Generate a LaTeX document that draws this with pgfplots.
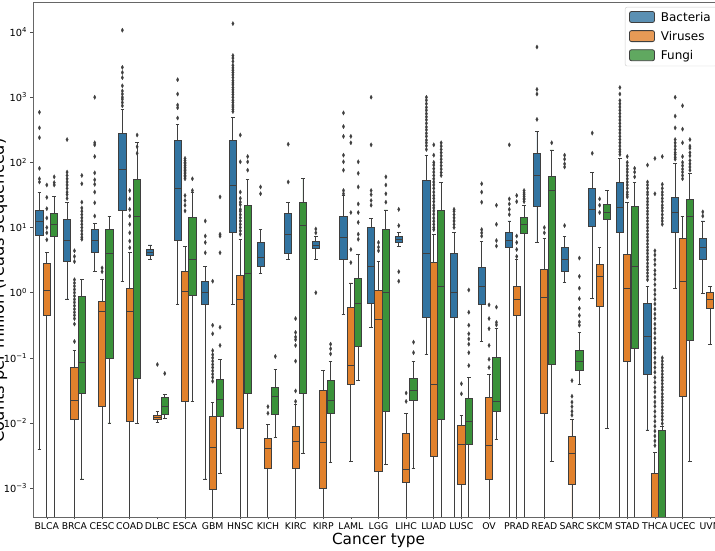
\documentclass[border=0pt]{standalone}
\usepackage{fontspec}
\setmainfont{DejaVu Sans}
\usepackage{pgfplots}
\pgfplotsset{compat=1.18}
\usepgfplotslibrary{statistics}
\definecolor{cblue}{HTML}{3274A1}
\definecolor{corange}{HTML}{E1812C}
\definecolor{cgreen}{HTML}{3A923A}
\definecolor{edge}{HTML}{3F3F3F}
\pgfplotsset{
  bstyle/.style={draw=edge, line width=0.9pt, forget plot, solid,
    mark=diamond*, mark size=2.2pt,
    mark options={fill=edge, draw=edge, line width=0.2pt, xscale=0.75}},
}
% #1 colour, #2 position, #3 lower whisker, #4 Q1, #5 median, #6 Q3, #7 upper whisker, #8 outliers
\newcommand{\bx}[8]{%
  \addplot[bstyle, fill=#1, boxplot prepared={draw position=#2, lower whisker=#3,
    lower quartile=#4, median=#5, upper quartile=#6, upper whisker=#7}]
    table[row sep=\\, y index=0] {data\\ #8};}
\begin{document}
\begin{tikzpicture}[trim left=-33pt, trim right=682pt]
\path (0pt,-33pt) (0pt,517pt);
\begin{axis}[
  at={(0pt,0pt)}, anchor=south west,
  scale only axis, width=691pt, height=515pt,
  ymode=log, ymin=3.6e-4, ymax=2.9e4,
  xmin=-0.5, xmax=24.5,
  boxplot/draw direction=y,
  boxplot/box extend=0.26, boxplot/whisker extend=0.13,
  xtick={0,...,24},
  xticklabels={BLCA,BRCA,CESC,COAD,DLBC,ESCA,GBM,HNSC,KICH,KIRC,KIRP,LAML,LGG,LIHC,LUAD,LUSC,OV,PRAD,READ,SARC,SKCM,STAD,THCA,UCEC,UVM},
  ytick={1e-3,1e-2,1e-1,1,10,100,1000,10000},
  yticklabels={10\textsuperscript{−3},10\textsuperscript{−2},10\textsuperscript{−1},10\textsuperscript{0},10\textsuperscript{1},10\textsuperscript{2},10\textsuperscript{3},10\textsuperscript{4}},
  yminorticks=false,
  tick align=outside, tick pos=left, major tick length=2.5pt,
  every tick/.style={black!70, line width=0.6pt},
  axis line style={black!60, line width=0.8pt},
  xticklabel style={font=\fontsize{9.3}{11}\selectfont, black},
  yticklabel style={font=\fontsize{9.8}{11}\selectfont, black},
  xlabel={Cancer type},
  ylabel={Counts per million (reads sequenced)},
  xlabel style={font=\fontsize{15.3}{18}\selectfont, at={(axis description cs:0.5,0)}, anchor=center, yshift=-23pt},
  ylabel style={font=\fontsize{16.2}{19}\selectfont, at={([xshift=-33.5pt]axis description cs:0,0.44)}, anchor=center},
  legend style={at={(rel axis cs:1,1)}, anchor=north east, xshift=-7pt, yshift=-5pt,
    draw=black!20, rounded corners=2pt, fill=white, fill opacity=0.8, text opacity=1,
    font=\fontsize{12}{14}\selectfont, inner xsep=4pt, inner ysep=3pt,
    /tikz/row sep=4.5pt, /tikz/every odd column/.append style={column sep=4pt}},
  legend cell align=left,
  legend image code/.code={\draw[#1, draw=edge, line width=0.8pt] (0pt,-5pt) rectangle (25pt,6pt);},
]
\addlegendimage{fill=cblue}\addlegendentry{Bacteria}
\addlegendimage{fill=corange}\addlegendentry{Viruses}
\addlegendimage{fill=cgreen}\addlegendentry{Fungi}
% BLCA
\bx{cblue}{-0.267}{3.9e-3}{7.6}{12.6}{18.6}{34.7}{589\\ 339\\ 240\\ 81\\ 56\\ 50\\}
\bx{corange}{0}{1e-5}{0.447}{1.07}{2.8}{4.2}{45\\ 29\\ 19.5\\ 14\\ 10\\ 8.3\\ 6.5\\}
\bx{cgreen}{0.267}{1e-5}{7.4}{11.2}{16.6}{29.5}{60\\ 49\\ 45\\}
% BRCA
\bx{cblue}{0.733}{0.8}{3.0}{6.3}{13.2}{24.5}{224\\ 71\\ 63\\ 56\\ 50\\ 45\\ 40\\ 35\\ 32\\ 28\\}
\bx{corange}{1}{1e-5}{0.0112}{0.0224}{0.0708}{0.129}{4.4\\ 3.6\\ 3.0\\ 1.58\\ 1.41\\ 1.26\\ 1.12\\ 1.0\\ 0.89\\ 0.79\\ 0.71\\ 0.63\\ 0.56\\ 0.5\\ 0.45\\ 0.4\\ 0.33\\ 0.178\\}
\bx{cgreen}{1.267}{1.38e-3}{0.0288}{0.085}{0.89}{1.58}{63\\ 47\\ 24.5\\ 20\\ 17.8\\ 15.8\\ 14.1\\ 12.6\\ 11.2\\ 10\\ 8.9\\ 7.9\\ 7.1\\ 6.6\\}
% CESC
\bx{cblue}{1.733}{2.1}{4.2}{6.3}{9.3}{11.7}{1000\\ 200\\ 186\\ 123\\ 69\\ 54\\ 46\\ 35\\ 24\\ 15\\}
\bx{corange}{2}{1e-5}{0.0178}{0.51}{0.74}{1.58}{2.4\\ 2.1\\}
\bx{cgreen}{2.267}{0.01}{0.098}{4}{9.5}{15}{}
% COAD
\bx{cblue}{2.733}{1.48}{18.2}{79}{275}{646}{10700\\ 2880\\ 2400\\ 2000\\ 1500\\ 1250\\ 1120\\ 1000\\ 930\\ 830\\ 740\\}
\bx{corange}{3}{1e-5}{0.0107}{0.52}{1.17}{4.1}{37\\ 27.5\\ 19\\ 15\\ 11.2\\ 8.3\\ 6.2\\ 4.9\\}
\bx{cgreen}{3.267}{0.0098}{0.049}{15}{54}{200}{263\\ 174\\ 138\\}
% DLBC
\bx{cblue}{3.733}{3.2}{3.7}{4.2}{4.6}{5.4}{}
\bx{corange}{4}{0.0102}{0.0112}{0.0123}{0.0132}{0.0148}{0.079\\}
\bx{cgreen}{4.267}{0.0117}{0.0135}{0.0178}{0.0245}{0.0275}{0.0575\\}
% ESCA
\bx{cblue}{4.733}{0.65}{6.3}{40}{214}{380}{1860\\ 1120\\ 760\\ 690\\ 480\\}
\bx{corange}{5}{1e-5}{0.0214}{1.03}{2.14}{5.2}{115\\ 107\\ 100\\ 95\\ 89\\ 84\\ 79\\ 75\\ 71\\ 67\\ 63\\ 60\\ 56\\ 31\\ 26\\ 22\\ 18\\}
\bx{cgreen}{5.267}{0.0214}{0.91}{3.2}{14.5}{35}{56\\ 37\\}
% GBM
\bx{cblue}{5.733}{1.38e-3}{0.65}{1.0}{1.48}{2.5}{12.6\\ 7.4\\ 5.9\\ 4.1\\}
\bx{corange}{6}{1e-5}{9.5e-4}{4.2e-3}{0.0126}{0.0204}{1.5\\ 0.316\\ 0.234\\ 0.129\\ 0.112\\ 0.1\\ 0.089\\ 0.079\\ 0.071\\ 0.063\\ 0.056\\ 0.05\\ 0.0437\\}
\bx{cgreen}{6.267}{1.66e-3}{0.0126}{0.0229}{0.0468}{0.0955}{29.5\\ 7.9\\ 7.4\\ 4.1\\ 0.295\\ 0.155\\}
% HNSC
\bx{cblue}{6.733}{0.65}{8.3}{45}{214}{490}{13500\\ 4365\\ 4000\\ 3550\\ 3100\\ 2820\\ 2600\\ 2400\\ 2200\\ 2000\\ 1800\\ 1660\\ 1550\\ 1410\\ 1300\\ 1200\\ 1100\\ 1000\\ 900\\ 832\\ 760\\ 708\\ 650\\ 603\\}
\bx{corange}{7}{1e-5}{8.3e-3}{0.78}{1.86}{6.6}{263\\ 102\\ 35\\ 28\\ 24.5\\ 22.4\\ 19\\ 17.8\\ 15.8\\ 14.1\\ 12.6\\ 11.2\\ 10\\ 8.9\\ 7.9\\}
\bx{cgreen}{7.267}{1e-5}{0.0288}{2}{21.9}{54}{123\\ 102\\ 76\\}
% KICH
\bx{cblue}{7.733}{2.0}{2.5}{3.5}{5.9}{9.3}{42\\ 33\\}
\bx{corange}{8}{1e-5}{2.0e-3}{4.1e-3}{5.75e-3}{9.5e-3}{0.0178\\ 0.0141\\}
\bx{cgreen}{8.267}{5.9e-3}{0.0135}{0.0257}{0.0355}{0.066}{0.105\\}
% KIRC
\bx{cblue}{8.733}{3.2}{4.0}{7.9}{16.6}{24.5}{190\\ 50\\}
\bx{corange}{9}{1e-5}{2.0e-3}{5.2e-3}{8.7e-3}{0.019}{0.4\\ 0.245\\ 0.209\\ 0.19\\ 0.155\\ 0.089\\ 0.031\\ 0.0214\\}
\bx{cgreen}{9.267}{3.4e-3}{0.0288}{10.7}{24.5}{56}{}
% KIRP
\bx{cblue}{9.733}{3.2}{4.7}{5.4}{6.2}{7.4}{9.5\\ 8.3\\ 1.0\\}
\bx{corange}{10}{1e-5}{1.0e-3}{5.1e-3}{0.031}{0.0646}{}
\bx{cgreen}{10.267}{2.5e-3}{0.0141}{0.0219}{0.0447}{0.089}{0.162\\ 0.138\\ 0.115\\}
% LAML
\bx{cblue}{10.733}{0.47}{3.2}{7.1}{15}{31}{575\\ 355\\ 251\\ 129\\ 102\\ 76\\ 37\\ 33\\}
\bx{corange}{11}{2.6e-3}{0.039}{0.076}{0.59}{1.41}{251\\ 200\\ 17\\ 4.6\\ 2.9\\}
\bx{cgreen}{11.267}{0.0447}{0.148}{0.68}{1.66}{3.9}{102\\ 68\\ 42\\ 23\\ 17\\ 12\\ 7.9\\ 6.6\\}
% LGG
\bx{cblue}{11.733}{0.295}{0.69}{2.5}{10}{13.8}{1000\\ 186\\ 37\\ 32\\ 26\\ 22\\}
\bx{corange}{12}{1e-5}{1.78e-3}{0.39}{1.1}{3.0}{5.9\\ 5\\ 4.4\\}
\bx{cgreen}{12.267}{2.3e-3}{0.0148}{1.0}{9.5}{18.6}{60\\ 45\\ 33\\ 24.5\\}
% LIHC
\bx{cblue}{12.733}{5.2}{6.0}{6.6}{7.4}{8.5}{19\\ 10.7\\ 2.1\\ 1.5\\}
\bx{corange}{13}{1e-5}{1.2e-3}{1.9e-3}{6.9e-3}{0.0141}{0.0288\\ 0.0214\\}
\bx{cgreen}{13.267}{2.0e-3}{0.0224}{0.031}{0.049}{0.087}{0.174\\ 0.12\\}
% LUAD
\bx{cblue}{13.733}{0.112}{0.41}{4}{52}{129}{1000\\ 900\\ 794\\ 700\\ 631\\ 560\\ 501\\ 450\\ 398\\ 350\\ 316\\ 280\\ 251\\ 220\\ 200\\ 180\\ 158\\}
\bx{corange}{14}{1e-5}{3.1e-3}{0.039}{2.9}{7.9}{186\\ 129\\ 100\\ 91\\ 80\\ 71\\ 63\\ 56\\ 50\\ 45\\ 40\\ 35\\ 31\\ 28\\ 25\\ 22\\ 20\\ 18\\ 16\\ 14\\ 12.5\\ 11.2\\ 10\\ 9.3\\}
\bx{cgreen}{14.267}{1e-5}{0.0112}{1.26}{18.6}{50}{200\\ 178\\ 158\\ 141\\ 126\\ 112\\ 100\\ 89\\ 79\\ 70\\ 63\\}
% LUSC
\bx{cblue}{14.733}{1e-5}{0.41}{1.0}{4.0}{8.3}{19\\ 17.8\\ 15.8\\ 14.1\\ 12.6\\ 11.2\\ 10\\}
\bx{corange}{15}{1e-5}{1.12e-3}{4.7e-3}{9.1e-3}{0.0129}{0.04\\ 0.028\\}
\bx{cgreen}{15.267}{1e-5}{4.7e-3}{0.0105}{0.0234}{0.05}{1.1\\ 0.5\\ 0.316\\ 0.234\\ 0.195\\ 0.162\\ 0.12\\ 0.076\\}
% OV
\bx{cblue}{15.733}{0.178}{0.66}{1.26}{2.4}{6.2}{47\\ 35\\ 24.5\\ 9.3\\ 8.3\\ 7.4\\}
\bx{corange}{16}{1e-5}{1.38e-3}{4.5e-3}{0.0245}{0.056}{0.65\\ 0.4\\ 0.28\\ 0.155\\ 0.095\\ 0.071\\}
\bx{cgreen}{16.267}{5.5e-3}{0.0148}{0.0214}{0.102}{0.28}{22\\ 11.2\\ 6.3\\ 5.2\\ 0.6\\ 0.35\\ 0.32\\}
% PRAD
\bx{cblue}{16.733}{1e-5}{5.0}{6.3}{8.3}{12.6}{186\\ 27.5\\ 23\\ 19\\ 15.8\\}
\bx{corange}{17}{1e-5}{0.45}{0.79}{1.26}{3.2}{31\\ 25\\ 7.4\\ 5.9\\ 4.6\\ 3.6\\}
\bx{cgreen}{17.267}{1e-5}{8.1}{11.2}{14.5}{22}{37\\ 34\\ 32\\ 30\\ 28\\ 27\\ 25\\}
% READ
\bx{cblue}{17.733}{5.9}{21}{63}{138}{302}{5900\\ 1320\\ 1120\\ 457\\}
\bx{corange}{18}{1e-5}{0.0141}{0.85}{2.3}{6.8}{10\\ 8.3\\}
\bx{cgreen}{18.267}{2.6e-3}{0.079}{37}{60}{155}{200\\}
% SARC
\bx{cblue}{18.733}{1.45}{2.1}{3.2}{5.0}{7.4}{129\\ 112\\ 95\\ 85\\ 10.7\\}
\bx{corange}{19}{1e-5}{1.12e-3}{3.4e-3}{6.3e-3}{0.0112}{0.0447\\ 0.0257\\ 0.0209\\ 0.0178\\ 0.0151\\ 0.0132\\}
\bx{cgreen}{19.267}{0.039}{0.0646}{0.087}{0.129}{0.245}{3.4\\ 1.78\\ 1.17\\ 0.81\\ 0.575\\ 0.447\\ 0.355\\ 0.316\\}
% SKCM
\bx{cblue}{19.733}{0.81}{10.5}{19}{40}{69}{282\\ 138\\}
\bx{corange}{20}{1e-5}{0.62}{1.78}{2.7}{4.9}{27.5\\ 22\\ 17\\}
\bx{cgreen}{20.267}{8.3e-3}{13.5}{17}{23}{37}{}
% STAD
\bx{cblue}{20.733}{1e-5}{8.3}{20}{50}{115}{1410\\ 1120\\ 891\\ 794\\ 708\\ 631\\ 562\\ 501\\ 447\\ 398\\ 355\\ 316\\ 282\\ 251\\ 224\\ 200\\ 178\\ 158\\ 145\\ 132\\}
\bx{corange}{21}{1e-5}{0.089}{1.17}{3.9}{24.5}{123\\ 100\\ 89\\ 79\\ 71\\ 63\\ 56\\ 50\\ 45\\ 40\\ 35\\ 32\\ 29.5\\}
\bx{cgreen}{21.267}{1e-5}{0.141}{2.5}{21}{50}{81\\ 71\\ 60\\}
% THCA
\bx{cblue}{21.733}{7.8e-3}{0.055}{0.21}{0.68}{1.26}{91\\ 50\\ 45\\ 40\\ 35\\ 32\\ 28\\ 25\\ 22.4\\ 20\\ 17.8\\ 16\\ 14.1\\ 12.6\\ 11.2\\ 10\\ 8.9\\ 7.9\\ 7.1\\ 6.3\\ 5.6\\ 5\\ 4.47\\ 4\\ 3.55\\ 3.2\\ 2.82\\ 2.5\\ 2.24\\ 2\\ 1.78\\ 1.58\\}
\bx{corange}{22}{1e-5}{1e-4}{2.5e-4}{1.66e-3}{3.5e-3}{115\\ 33\\ 4.4\\ 3.8\\ 3.2\\ 2.7\\ 2.2\\ 1.9\\ 1.6\\ 1.33\\ 1.1\\ 0.94\\ 0.79\\ 0.67\\ 0.56\\ 0.47\\ 0.4\\ 0.33\\ 0.28\\ 0.24\\ 0.2\\ 0.17\\ 0.14\\ 0.12\\ 0.1\\ 0.084\\ 0.071\\ 0.06\\ 0.05\\ 0.042\\ 0.035\\ 0.03\\ 0.025\\ 0.021\\ 0.018\\ 0.015\\ 0.0126\\ 0.0106\\ 8.9e-3\\ 7.5e-3\\ 6.3e-3\\ 5.3e-3\\ 4.5e-3\\}
\bx{cgreen}{22.267}{1e-5}{1e-4}{2e-4}{7.6e-3}{8.9e-3}{123\\ 46\\ 40\\ 35\\ 31.6\\ 28\\ 25\\ 22\\ 20\\ 18\\ 15.8\\ 14\\ 12.6\\ 11.2\\ 0.1\\ 0.089\\ 0.079\\ 0.071\\ 0.063\\ 0.056\\ 0.05\\ 0.045\\ 0.04\\ 0.0355\\ 0.032\\ 0.028\\ 0.025\\ 0.0224\\ 0.02\\ 0.0178\\ 0.0158\\ 0.0141\\ 0.0126\\ 0.0112\\ 9.8e-3\\}
% UCEC
\bx{cblue}{22.733}{1.17}{8.3}{17}{29}{95}{1000\\ 513\\ 339\\ 224\\ 200\\ 178\\ 158\\ 141\\ 132\\ 120\\ 112\\}
\bx{corange}{23}{1e-5}{0.0257}{1.48}{6.9}{15}{741\\ 324\\ 200\\ 123\\ 100\\ 89\\ 79\\ 71\\ 63\\ 56\\}
\bx{cgreen}{23.267}{2.6e-3}{0.182}{15}{27}{68}{224\\ 178\\ 166\\ 141\\ 126\\ 107\\ 95\\ 85\\ 76\\}
% UVM
\bx{cblue}{23.733}{0.98}{3.2}{5}{6.9}{12.6}{17.4\\ 15\\}
\bx{corange}{24}{0.162}{0.575}{0.78}{1.0}{1.26}{}
\end{axis}
\end{tikzpicture}
\end{document}
